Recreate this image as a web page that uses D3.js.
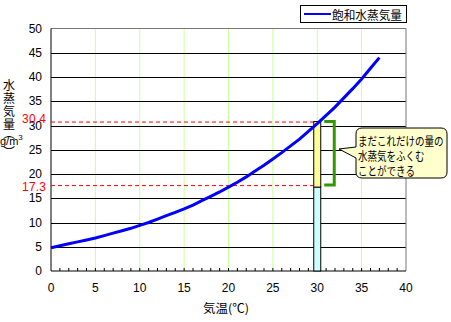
<!DOCTYPE html>
<html>
<head>
<meta charset="utf-8">
<script src="https://cdn.jsdelivr.net/npm/d3@7.9.0/dist/d3.min.js"></script>
<style>
  body { margin: 0; background: #fff; }
  text { font-family: "Noto Sans CJK JP", "DejaVu Sans", sans-serif; font-size: 12px; }
  .num { font-family: "Liberation Sans", "DejaVu Sans", sans-serif; font-size: 12px; }
</style>
</head>
<body>
<svg id="chart" width="451" height="322"></svg>
<script>
// saturated water vapour (g/m3) per temperature (°C)
const temps = d3.range(0, 38);
const vapour = [4.8, 5.2, 5.6, 6.0, 6.4, 6.8, 7.3, 7.8, 8.3, 8.8,
  9.4, 10.0, 10.7, 11.4, 12.1, 12.8, 13.6, 14.5, 15.4, 16.3,
  17.3, 18.3, 19.4, 20.6, 21.8, 23.1, 24.4, 25.8, 27.2, 28.8,
  30.4, 32.1, 33.8, 35.7, 37.6, 39.6, 41.8, 44.0];
const xTicks = [0, 5, 10, 15, 20, 25, 30, 35, 40];
const yTicks = [0, 5, 10, 15, 20, 25, 30, 35, 40, 45, 50];
const markTemp = 30;
const actual = 17.3;     // current vapour
const saturated = 30.4;  // max at 30°C
const noteLines = ['まだこれだけの量の', '水蒸気をふくむ', 'ことができる'];

const svg = d3.select('#chart');
const x = d3.scaleLinear().domain([0, 40]).range([51, 406]);
const y = d3.scaleLinear().domain([0, 50]).range([271, 28.5]);

// --- grid ---
svg.append('g').selectAll('line')
  .data(xTicks.filter(d => d > 0 && d < 40))
  .join('line')
  .attr('x1', d => x(d)).attr('x2', d => x(d))
  .attr('y1', y(50)).attr('y2', y(0))
  .attr('stroke', '#ccff99').attr('stroke-width', 1);

svg.append('g').selectAll('line')
  .data(yTicks.filter(d => d > 0 && d < 50))
  .join('line')
  .attr('x1', x(0)).attr('x2', x(40))
  .attr('y1', d => Math.round(y(d)) + 0.5).attr('y2', d => Math.round(y(d)) + 0.5)
  .attr('stroke', '#000').attr('stroke-width', 1);

// frame: top/right gray
svg.append('path')
  .attr('d', `M${x(0)},${y(50)}H${x(40)}V${y(0)}`)
  .attr('fill', 'none').attr('stroke', '#777').attr('stroke-width', 1);

// minor ticks on x axis
svg.append('g').selectAll('line')
  .data(d3.range(1, 40))
  .join('line')
  .attr('x1', d => x(d)).attr('x2', d => x(d))
  .attr('y1', y(0)).attr('y2', y(0) - 3)
  .attr('stroke', '#000');

// axes lines
svg.append('line').attr('x1', x(0)).attr('x2', x(0)).attr('y1', y(50)).attr('y2', y(0))
  .attr('stroke', '#000');
svg.append('line').attr('x1', x(0)).attr('x2', x(40)).attr('y1', y(0)).attr('y2', y(0))
  .attr('stroke', '#000');

// tick labels
svg.append('g').selectAll('text')
  .data(yTicks)
  .join('text')
  .attr('class', 'num')
  .attr('x', 42).attr('y', d => y(d))
  .attr('text-anchor', 'end').attr('dominant-baseline', 'central')
  .text(d => d);

svg.append('g').selectAll('text')
  .data(xTicks)
  .join('text')
  .attr('class', 'num')
  .attr('x', d => x(d)).attr('y', 288)
  .attr('text-anchor', 'middle').attr('dominant-baseline', 'central')
  .text(d => d);

// axis titles
svg.append('text').attr('x', 226).attr('y', 307)
  .attr('text-anchor', 'middle').attr('dominant-baseline', 'central')
  .attr('textLength', 46).attr('lengthAdjust', 'spacingAndGlyphs')
  .text('気温(℃)');

const yTitle = svg.append('g').style('font-size', '11px');
['水', '蒸', '気', '量'].forEach((c, i) => {
  yTitle.append('text').attr('x', 9).attr('y', 84 + i * 13)
    .attr('text-anchor', 'middle').attr('dominant-baseline', 'central').text(c);
});
yTitle.append('text').attr('x', 9).attr('y', 132).attr('text-anchor', 'middle')
  .attr('dominant-baseline', 'central').text('︵');
yTitle.append('text').attr('x', 0).attr('y', 141)
  .attr('dominant-baseline', 'central').attr('class', 'num').style('font-size', '11px')
  .html('g/m<tspan dy="-4" style="font-size:8px">3</tspan>');
yTitle.append('text').attr('x', 9).attr('y', 151).attr('text-anchor', 'middle')
  .attr('dominant-baseline', 'central').text('︶');

// red reference lines (label offset keeps 30.4 clear of the "30" tick)
[[saturated, -5], [actual, 0]].forEach(([v, dy]) => {
  svg.append('line')
    .attr('x1', x(0)).attr('x2', x(markTemp) - 3)
    .attr('y1', y(v) - 1.5).attr('y2', y(v) - 1.5)
    .attr('stroke', '#ff0000').attr('stroke-dasharray', '4,3');
  svg.append('text').attr('class', 'num').attr('x', 46).attr('y', y(v) + dy)
    .attr('text-anchor', 'end').attr('dominant-baseline', 'central')
    .attr('textLength', 24).attr('lengthAdjust', 'spacing')
    .attr('fill', '#ff0000').text(v.toFixed(1));
});

// stacked bar at 30°C
const bw = 7;
svg.append('rect')
  .attr('x', x(markTemp) - bw / 2).attr('width', bw)
  .attr('y', y(actual)).attr('height', y(0) - y(actual))
  .attr('fill', '#ccffff').attr('stroke', '#000');
svg.append('rect')
  .attr('x', x(markTemp) - bw / 2).attr('width', bw)
  .attr('y', y(saturated) - 2).attr('height', y(actual) - y(saturated) + 2)
  .attr('fill', '#ffff99').attr('stroke', '#000');

// curve
const line = d3.line().x((d, i) => x(temps[i])).y(d => y(d));
svg.append('path').datum(vapour)
  .attr('d', line)
  .attr('fill', 'none').attr('stroke', '#0000ff').attr('stroke-width', 3);

// green bracket
const bx = x(markTemp) + 17;
svg.append('path')
  .attr('d', `M${bx - 10},${y(saturated) - 2}H${bx}V${y(actual) - 2}H${bx - 10}`)
  .attr('fill', 'none').attr('stroke', '#339900').attr('stroke-width', 3);

// callout bubble
svg.append('path')
  .attr('d', 'M362,128 H441 Q447,128 447,134 V172 Q447,178 441,178 H362 Q356,178 356,172 V158 L339,149 L356,147 V134 Q356,128 362,128 Z')
  .attr('fill', '#ffffcc').attr('stroke', '#000');
noteLines.forEach((t, i) => {
  svg.append('text').attr('x', 358).attr('y', 140 + i * 15)
    .attr('dominant-baseline', 'central')
    .attr('textLength', t.length * 9.5).attr('lengthAdjust', 'spacingAndGlyphs')
    .text(t);
});

// legend
svg.append('rect').attr('x', 300.5).attr('y', 5.5).attr('width', 106).attr('height', 17)
  .attr('fill', '#fff').attr('stroke', '#000');
svg.append('line').attr('x1', 304).attr('x2', 331).attr('y1', 14).attr('y2', 14)
  .attr('stroke', '#0000ff').attr('stroke-width', 2);
svg.append('text').attr('x', 332).attr('y', 14).attr('dominant-baseline', 'central')
  .attr('textLength', 70).attr('lengthAdjust', 'spacingAndGlyphs')
  .text('飽和水蒸気量');
</script>
</body>
</html>
